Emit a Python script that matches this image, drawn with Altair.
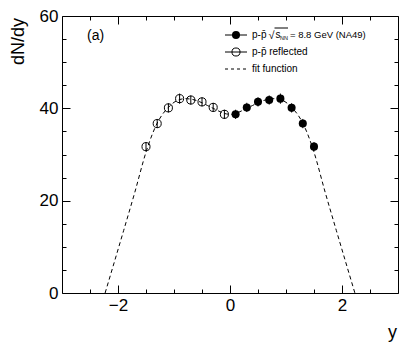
import altair as alt
import pandas as pd

# NA49 p-pbar rapidity density (measured, y > 0)
rap = [0.1, 0.3, 0.5, 0.7, 0.9, 1.1, 1.3, 1.5]
dndy = [38.7, 40.2, 41.4, 41.8, 42.1, 40.1, 36.7, 31.7]
err = [1.0, 1.0, 1.0, 1.0, 1.1, 1.0, 1.0, 1.0]

# fit function
fit_x = [-2.23, -2.1, -1.9, -1.7, -1.5, -1.4, -1.3, -1.2, -1.1, -1.0, -0.9, -0.8, -0.7, -0.6,
         -0.5, -0.4, -0.3, -0.2, -0.1, 0.0, 0.1, 0.2, 0.3, 0.4, 0.5, 0.6, 0.7, 0.8, 0.9, 1.0,
         1.1, 1.2, 1.3, 1.4, 1.5, 1.7, 1.9, 2.1, 2.23]
fit_y = [0.0, 5.3, 13.5, 21.8, 30.5, 34.0, 36.8, 38.8, 40.2, 41.3, 41.9, 42.1, 42.0, 41.7,
         41.2, 40.6, 40.0, 39.4, 38.9, 38.7, 38.9, 39.4, 40.0, 40.6, 41.2, 41.7, 42.0, 42.1,
         41.9, 41.3, 40.2, 38.8, 36.8, 34.0, 30.5, 21.8, 13.5, 5.3, 0.0]

x_major = [-2, 0, 2]
x_minor = [-2.5, -1.5, -1, -0.5, 0.5, 1, 1.5, 2.5]
y_major = [0, 20, 40, 60]
y_minor = [5, 10, 15, 25, 30, 35, 45, 50, 55]

FONT = "Liberation Sans"

meas = pd.DataFrame({"x": rap, "v": dndy, "lo": [a - b for a, b in zip(dndy, err)],
                     "hi": [a + b for a, b in zip(dndy, err)]})
refl = pd.DataFrame({"x": [-a for a in rap], "v": dndy, "lo": meas["lo"], "hi": meas["hi"]})
fit = pd.DataFrame({"x": fit_x, "v": fit_y})
one = pd.DataFrame({"k": [0]})

xs = alt.Scale(domain=[-3, 3], nice=False, zero=False)
ys = alt.Scale(domain=[0, 60], nice=False, zero=False)


def tick_axis(orient, values, size, offset):
    return alt.Axis(orient=orient, values=values, tickSize=size, offset=offset, labels=False,
                    domain=False, grid=False, title=None, ticks=True, tickColor="black",
                    tickWidth=1)


def label_axis(orient, values):
    return alt.Axis(orient=orient, values=values, ticks=False, tickSize=0, domain=False,
                    grid=False, title=None, labelFont=FONT, labelFontSize=17,
                    labelColor="black", labelPadding=4, labelOverlap=False, labelFlush=False)


fit_line = alt.Chart(fit).mark_line(color="black", strokeWidth=1, strokeDash=[4, 3],
                                    interpolate="monotone").encode(
    x=alt.X("x:Q", scale=xs, axis=label_axis("bottom", x_major)),
    y=alt.Y("v:Q", scale=ys, axis=label_axis("left", y_major)),
)

err_refl = alt.Chart(refl).mark_rule(color="black", strokeWidth=1).encode(
    x=alt.X("x:Q", scale=xs, axis=tick_axis("bottom", x_major, 8, -8)),
    y=alt.Y("lo:Q", scale=ys, axis=tick_axis("left", y_major, 8, -8)),
    y2="hi:Q",
)

err_meas = alt.Chart(meas).mark_rule(color="black", strokeWidth=1).encode(
    x=alt.X("x:Q", scale=xs, axis=tick_axis("bottom", x_minor, 4, -4)),
    y=alt.Y("lo:Q", scale=ys, axis=tick_axis("left", y_minor, 4, -4)),
    y2="hi:Q",
)

pts_refl = alt.Chart(refl).mark_point(shape="circle", filled=False, color="black",
                                      strokeWidth=1, size=65, opacity=1).encode(
    x=alt.X("x:Q", scale=xs, axis=tick_axis("top", x_major, 8, -8)),
    y=alt.Y("v:Q", scale=ys, axis=tick_axis("right", y_major, 8, -8)),
)

pts_meas = alt.Chart(meas).mark_point(shape="circle", filled=True, color="black",
                                      size=65, opacity=1).encode(
    x=alt.X("x:Q", scale=xs, axis=tick_axis("top", x_minor, 4, -4)),
    y=alt.Y("v:Q", scale=ys, axis=tick_axis("right", y_minor, 4, -4)),
)


def txt(s, x, y, size=10, align="left", baseline="middle", weight="normal", angle=0):
    return alt.Chart(one).mark_text(text=s, font=FONT, fontSize=size, align=align,
                                    baseline=baseline, fontWeight=weight, angle=angle,
                                    color="black").encode(x=alt.value(x), y=alt.value(y))


def hline(x1, x2, y, dash=None):
    kw = {"color": "black", "strokeWidth": 1}
    if dash:
        kw["strokeDash"] = dash
    return alt.Chart(one).mark_rule(**kw).encode(x=alt.value(x1), x2=alt.value(x2),
                                                 y=alt.value(y))


leg_pt1 = alt.Chart(one).mark_point(shape="circle", filled=True, color="black", size=65,
                                    opacity=1).encode(x=alt.value(174), y=alt.value(19))
leg_pt2 = alt.Chart(one).mark_point(shape="circle", filled=False, color="black", size=65,
                                    strokeWidth=1, opacity=1).encode(x=alt.value(174),
                                                                     y=alt.value(36))

layers = [
    fit_line, err_refl, err_meas, pts_refl, pts_meas,
    hline(163, 185, 19), leg_pt1,
    hline(163, 185, 36), leg_pt2,
    hline(163, 185, 53, [3, 3]),
    txt("p-p\u0304", 190, 19),
    txt("\u221a", 206.5, 19.5, size=11),
    txt("s", 213.5, 19),
    txt("NN", 218, 22, size=5.5),
    hline(212.5, 226, 12),
    txt("= 8.8 GeV (NA49)", 228, 19, size=9.5),
    txt("p-p\u0304 reflected", 190, 36),
    txt("fit function", 190, 53),
    txt("(a)", 25, 20, size=14),
    txt("dN/dy", -38.5, 2, size=18, align="right", baseline="alphabetic", angle=270),
    txt("y", 335, 322, size=18, align="right", baseline="alphabetic"),
]

chart = alt.layer(*layers).resolve_axis(x="independent", y="independent").properties(
    width=336, height=277,
    autosize=alt.AutoSizeParams(type="none"),
    padding={"left": 54, "top": 8, "right": 5, "bottom": 50},
    background="white",
).configure_view(stroke="black", strokeWidth=1)

chart.save("out.html", embed_options={"renderer": "svg", "actions": False})
